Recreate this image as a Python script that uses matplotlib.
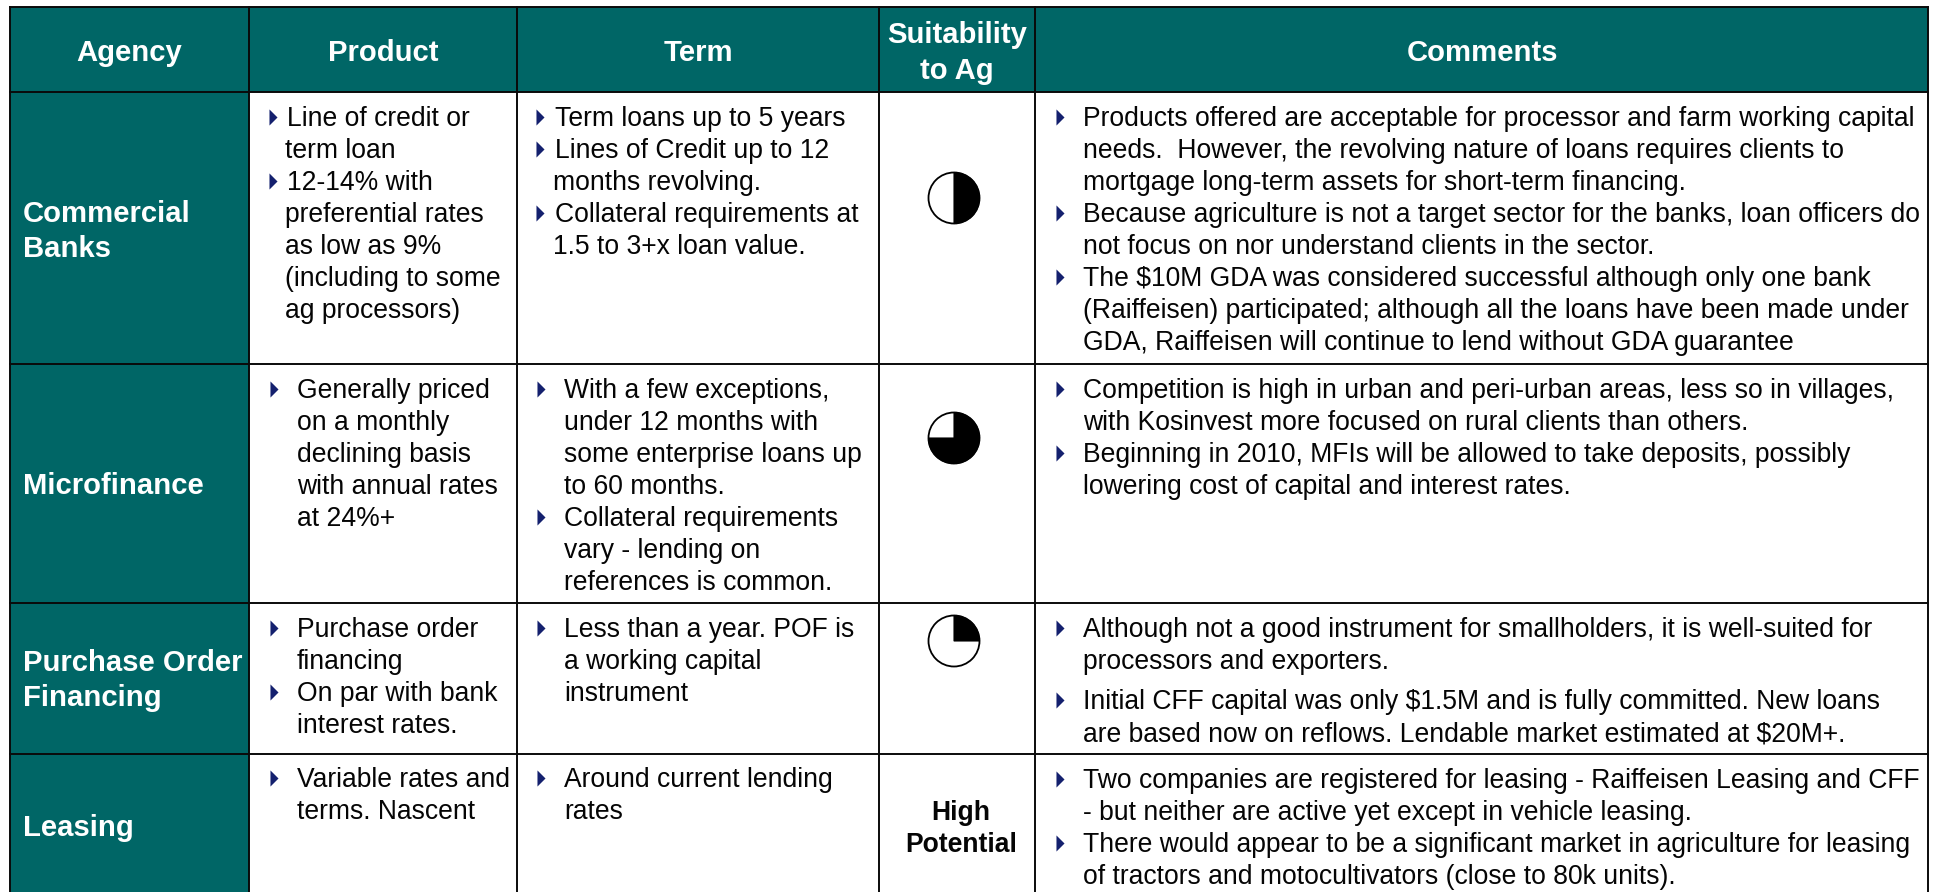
import matplotlib
matplotlib.use("Agg")
import matplotlib.pyplot as plt
from matplotlib.patches import Rectangle, Wedge, Circle
from matplotlib.path import Path

plt.rcParams['font.family'] = ['Liberation Sans', 'DejaVu Sans']

headers = ["Agency", "Product", "Term", "Suitability\nto Ag", "Comments"]
agencies = ["Commercial\nBanks", "Microfinance", "Purchase Order\nFinancing", "Leasing"]
suitability = [0.5, 0.75, 0.25]
suitability_text = ["High", "Potential"]

# lines starting with * get a bullet
product_1 = ["*Line of credit or", "term loan", "*12-14% with", "preferential rates", "as low as 9%",
             "(including to some", "ag processors)"]
product_2 = ["*Generally priced", "on a monthly", "declining basis", "with annual rates", "at 24%+"]
product_3 = ["*Purchase order", "financing", "*On par with bank", "interest rates."]
product_4 = ["*Variable rates and", "terms. Nascent"]

term_1 = ["*Term loans up to 5 years", "*Lines of Credit up to 12", "months revolving.",
          "*Collateral requirements at", "1.5 to 3+x loan value."]
term_2 = ["*With a few exceptions,", "under 12 months with", "some enterprise loans up", "to 60 months.",
          "*Collateral requirements", "vary - lending on", "references is common."]
term_3 = ["*Less than a year. POF is", "a working capital", "instrument"]
term_4 = ["*Around current lending", "rates"]

comments_1 = ["*Products offered are acceptable for processor and farm working capital",
              "needs.  However, the revolving nature of loans requires clients to",
              "mortgage long-term assets for short-term financing.",
              "*Because agriculture is not a target sector for the banks, loan officers do",
              "not focus on nor understand clients in the sector.",
              "*The $10M GDA was considered successful although only one bank",
              "(Raiffeisen) participated; although all the loans have been made under",
              "GDA, Raiffeisen will continue to lend without GDA guarantee"]
comments_2 = ["*Competition is high in urban and peri-urban areas, less so in villages,",
              "with Kosinvest more focused on rural clients than others.",
              "*Beginning in 2010, MFIs will be allowed to take deposits, possibly",
              "lowering cost of capital and interest rates."]
comments_3a = ["*Although not a good instrument for smallholders, it is well-suited for",
               "processors and exporters."]
comments_3b = ["*Initial CFF capital was only $1.5M and is fully committed. New loans",
               "are based now on reflows. Lendable market estimated at $20M+."]
comments_4 = ["*Two companies are registered for leasing - Raiffeisen Leasing and CFF",
              "- but neither are active yet except in vehicle leasing.",
              "*There would appear to be a significant market in agriculture for leasing",
              "of tractors and motocultivators (close to 80k units)."]

TEAL = "#006666"
NAVY = "#14206e"
BODY = 19.1
HEAD = 21.1
STEP = 32.05
tri = Path([(-0.5, -1), (0.5, 0), (-0.5, 1), (-0.5, -1)])

fig = plt.figure(figsize=(19.36, 8.92), dpi=100)
ax = fig.add_axes([0, 0, 1, 1])
ax.set_xlim(0, 1936)
ax.set_ylim(892, 0)
ax.axis('off')

xl = [10, 249, 517, 879, 1035, 1928]
yl = [7, 92, 364, 603, 754, 892]

# teal header and first column
ax.add_patch(Rectangle((xl[0], yl[0]), xl[5] - xl[0], yl[1] - yl[0], fc=TEAL, ec='none'))
ax.add_patch(Rectangle((xl[0], yl[1]), xl[1] - xl[0], yl[5] - yl[1], fc=TEAL, ec='none'))
for x in xl:
    ax.plot([x, x], [yl[0], yl[5]], color='#0a0a0a', lw=1.4, solid_capstyle='projecting')
for y in yl[:-1]:
    ax.plot([xl[0], xl[5]], [y, y], color='#0a0a0a', lw=1.4, solid_capstyle='projecting')

# header text
hx = [129.5, 383, 698, 957, 1483]
for h, x in zip(headers, hx):
    if "\n" in h:
        a, b = h.split("\n")
        ax.text(x, 43, a, color='white', fontsize=HEAD, fontweight='bold', ha='center', va='baseline')
        ax.text(x, 79, b, color='white', fontsize=HEAD, fontweight='bold', ha='center', va='baseline')
    else:
        ax.text(x, 61, h, color='white', fontsize=HEAD, fontweight='bold', ha='center', va='baseline')

# agency column
agency_base = [[222, 257], [494], [671, 706], [836]]
for name, ys in zip(agencies, agency_base):
    for t, y in zip(name.split("\n"), ys):
        ax.text(23, y, t, color='white', fontsize=HEAD, fontweight='bold', ha='left', va='baseline')


def draw_cell(lines, xb, xt, y0, step=STEP, first=0):
    for i, t in enumerate(lines):
        y = y0 + i * step
        if t.startswith("*"):
            ax.plot([xb], [y - 9], marker=tri, ms=11.6, mfc=NAVY, mec='none', ls='none')
            ax.text(xt + first, y, t[1:], fontsize=BODY, color='#050505', ha='left', va='baseline')
        else:
            ax.text(xt, y, t, fontsize=BODY, color='#050505', ha='left', va='baseline')


draw_cell(product_1, 273, 285, 126, first=2)
draw_cell(product_2, 274, 297, 398)
draw_cell(product_3, 274, 297, 637)
draw_cell(product_4, 274, 297, 787)

draw_cell(term_1, 540, 553, 126, first=2)
draw_cell(term_2, 541, 564, 398)
draw_cell(term_3, 541, 564, 637)
draw_cell(term_4, 541, 564, 787)

draw_cell(comments_1, 1060, 1083, 126)
draw_cell(comments_2, 1060, 1083, 398)
draw_cell(comments_3a, 1060, 1083, 637)
draw_cell(comments_3b, 1060, 1083, 709)
draw_cell(comments_4, 1060, 1083, 788)

# harvey balls
ball_y = [198, 438, 641]
for f, y in zip(suitability, ball_y):
    ax.add_patch(Circle((954, y), 25.5, fc='white', ec='black', lw=1.3))
    ax.add_patch(Wedge((954, y), 25.5, -90, -90 + 360 * f, fc='black', ec='black', lw=0.8))

ax.text(961, 820, suitability_text[0], fontsize=BODY, fontweight='bold', ha='center', va='baseline', color='#050505')
ax.text(961, 852, suitability_text[1], fontsize=BODY, fontweight='bold', ha='center', va='baseline', color='#050505')

fig.savefig("out.png", dpi=100, facecolor='white')
